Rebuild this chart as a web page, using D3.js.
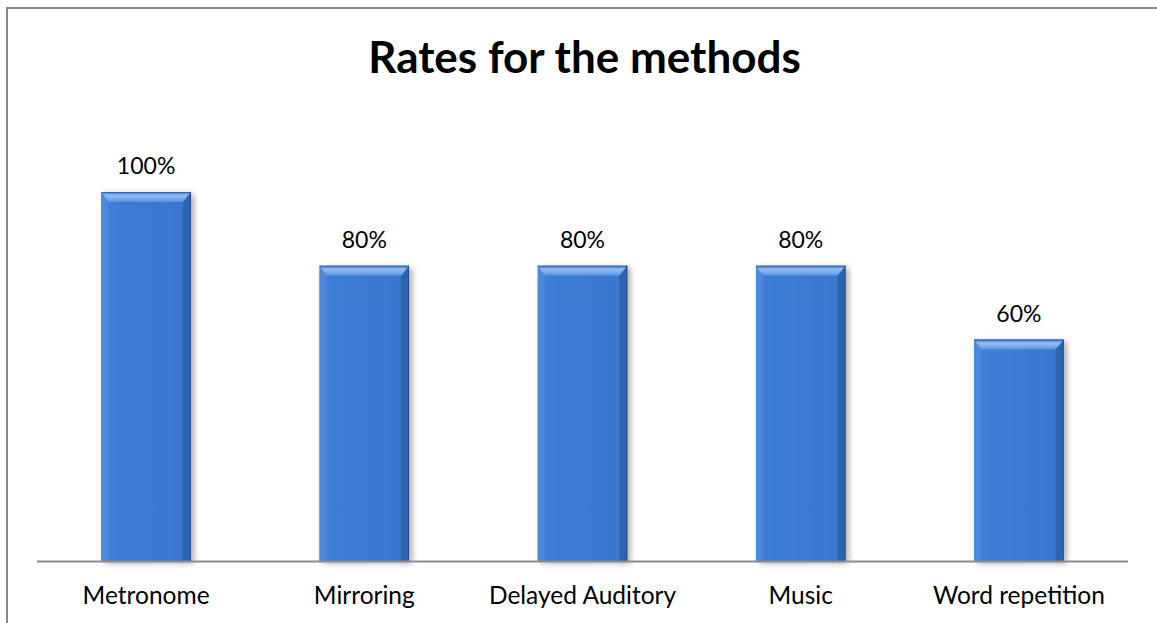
<!DOCTYPE html>
<html lang="en">
<head>
<meta charset="utf-8">
<style>
body {
  margin: 0;
  background: #fff;
  font-family: Lato, 'Open Sans', sans-serif;
}
.title {
  font-weight: bold;
  font-size: 44px;
  fill: #000;
}
.valueLabel, .catLabel {
  fill: #000;
}
</style>
<title>Rates for the methods</title>
<script src="https://cdn.jsdelivr.net/npm/d3@7"></script>
</head>
<body>
<div id="chart"></div>
<script>

var categories = ["Metronome", "Mirroring", "Delayed Auditory", "Music", "Word repetition"];
var rates = [1.00, 0.80, 0.80, 0.80, 0.60];
var valueLabels = ["100%", "80%", "80%", "80%", "60%"];

var w = 1157,
    h = 623;

var svg = d3.select("#chart")
  .append("svg")
  .attr("width", w)
  .attr("height", h);

var defs = svg.append("defs");

// face of the bar
var face = defs.append("linearGradient")
  .attr("id", "faceGrad")
  .attr("x1", 0).attr("y1", 0).attr("x2", 1).attr("y2", 0);
face.append("stop").attr("offset", "0%").attr("stop-color", "#3f7ed6");
face.append("stop").attr("offset", "100%").attr("stop-color", "#3a76cf");

var topGrad = defs.append("linearGradient")
  .attr("id", "topGrad")
  .attr("x1", 0).attr("y1", 0).attr("x2", 0).attr("y2", 1);
topGrad.append("stop").attr("offset", "0%").attr("stop-color", "#4a84d6");
topGrad.append("stop").attr("offset", "40%").attr("stop-color", "#92bff4");
topGrad.append("stop").attr("offset", "100%").attr("stop-color", "#5890e0");

var shadow = defs.append("filter")
  .attr("id", "shadow")
  .attr("x", "-20%").attr("y", "-20%")
  .attr("width", "150%").attr("height", "150%");
shadow.append("feGaussianBlur").attr("in", "SourceAlpha").attr("stdDeviation", 3);
shadow.append("feOffset").attr("dx", 3).attr("dy", 2).attr("result", "blur");
shadow.append("feComponentTransfer").append("feFuncA").attr("type", "linear").attr("slope", 0.35);
var merge = shadow.append("feMerge");
merge.append("feMergeNode");
merge.append("feMergeNode").attr("in", "SourceGraphic");

// chart border (runs off the right and bottom edges)
svg.append("rect")
  .attr("x", 7)
  .attr("y", 8)
  .attr("width", w + 20)
  .attr("height", h + 20)
  .attr("fill", "none")
  .attr("stroke", "#8a8a8a")
  .attr("stroke-width", 2);

var x = d3.scaleBand()
  .domain(categories)
  .range([37, 1128])
  .paddingInner(0.59)
  .paddingOuter(0.295);

var y = d3.scaleLinear()
  .domain([0, 1])
  .range([561, 192]);

svg.append("text")
  .attr("class", "title")
  .attr("x", (37 + 1128) / 2 + 2)
  .attr("y", 73)
  .attr("text-anchor", "middle")
  .text("Rates for the methods");

var bars = svg.selectAll("g.bar")
  .data(categories)
  .enter()
  .append("g")
  .attr("class", "bar");

var bev = 10;

bars.each(function(d, i) {
  var g = d3.select(this);
  var x0 = x(d), x1 = x(d) + x.bandwidth();
  var y0 = y(rates[i]), y1 = y(0);

  g.append("rect")
    .attr("x", x0).attr("y", y0)
    .attr("width", x1 - x0).attr("height", y1 - y0)
    .attr("fill", "url(#faceGrad)")
    .style("filter", "url(#shadow)");

  // left bevel
  g.append("polygon")
    .attr("points", [[x0, y0], [x0 + bev - 3, y0 + bev], [x0 + bev - 3, y1], [x0, y1]].join(" "))
    .attr("fill", "#4c88db");
  // right bevel
  g.append("polygon")
    .attr("points", [[x1, y0], [x1 - bev + 2, y0 + bev], [x1 - bev + 2, y1], [x1, y1]].join(" "))
    .attr("fill", "#2e63b2");
  // top bevel
  g.append("polygon")
    .attr("points", [[x0, y0], [x1, y0], [x1 - bev + 2, y0 + bev], [x0 + bev - 3, y0 + bev]].join(" "))
    .attr("fill", "url(#topGrad)");
  g.append("line")
    .attr("x1", x0).attr("x2", x1)
    .attr("y1", y0 + 0.5).attr("y2", y0 + 0.5)
    .attr("stroke", "#2f62ad").attr("stroke-width", 1);
  g.append("line")
    .attr("x1", x1 - 0.5).attr("x2", x1 - 0.5)
    .attr("y1", y0).attr("y2", y1)
    .attr("stroke", "#234c8e").attr("stroke-width", 1);
});

bars.append("text")
  .attr("class", "valueLabel")
  .attr("x", function(d) { return x(d) + x.bandwidth() / 2; })
  .attr("y", function(d, i) { return y(rates[i]) - 18; })
  .attr("text-anchor", "middle")
  .style("font-size", "23px")
  .text(function(d, i) { return valueLabels[i]; });

// category axis
var axis = svg.append("g")
  .attr("transform", "translate(0," + y(0) + ")")
  .call(d3.axisBottom(x).tickSize(0).tickPadding(0));

axis.select(".domain")
  .attr("d", "M37,0.5H1128")
  .attr("stroke", "#8c8c8c")
  .attr("stroke-width", 2);

axis.selectAll(".tick text")
  .attr("class", "catLabel")
  .attr("y", 43)
  .attr("dy", 0)
  .style("font-family", "Lato, 'Open Sans', sans-serif")
  .style("font-size", "24.5px")
  .attr("fill", "#000");

</script>
</body>
</html>
